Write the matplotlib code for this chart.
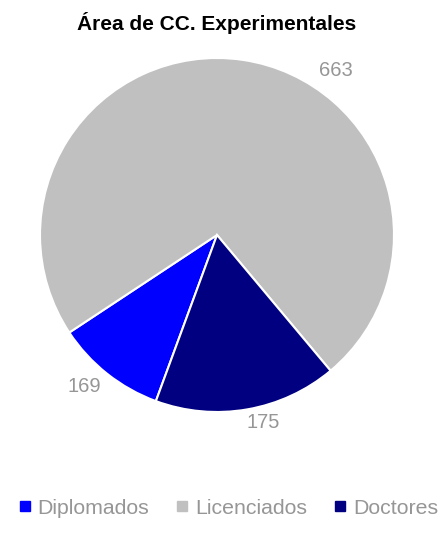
import matplotlib
matplotlib.use("Agg")
import matplotlib.pyplot as plt
from matplotlib.lines import Line2D
import numpy as np

# Datos
categorias = ["Diplomados", "Licenciados", "Doctores"]
etiquetas = [169, 663, 175]
# cuota de cada sector tal como se ve en el grafico (en %)
cuotas = [10.1, 73.2, 16.7]
colores = ["#0000FF", "#C0C0C0", "#000080"]

plt.rcParams["font.family"] = ["Liberation Sans", "DejaVu Sans"]

fig = plt.figure(figsize=(4.45, 5.34), dpi=100)
ax = fig.add_axes([0.0899, 0.2285, 0.7955, 0.6629])

wedges, _ = ax.pie(cuotas, colors=colores, startangle=249.8, counterclock=False,
                   wedgeprops={"edgecolor": "white", "linewidth": 1.5})
ax.set_xlim(-1, 1)
ax.set_ylim(-1, 1)
ax.set_aspect("equal")
ax.axis("off")

# Etiquetas de datos (angulo, distancia) como en el original
pos_etiquetas = [(-131.1, 1.137), (54.1, 1.146), (-76.2, 1.09)]
for valor, (ang, dist) in zip(etiquetas, pos_etiquetas):
    a = np.deg2rad(ang)
    ax.text(dist * np.cos(a), dist * np.sin(a), str(valor), ha="center", va="center",
            fontsize=14.5, color="#969696", clip_on=False)

fig.text(0.487, 1 - 23 / 534, "Área de CC. Experimentales", ha="center", va="center",
         fontsize=15, fontweight="bold", color="black")

handles = [Line2D([], [], marker="s", linestyle="none", markersize=6.5,
                  markerfacecolor=c, markeredgecolor=c) for c in colores]
leg = fig.legend(handles, categorias, loc="center", bbox_to_anchor=(0.513, 1 - 508 / 534),
                 ncol=3, frameon=False, fontsize=15.3, handlelength=0.6,
                 handletextpad=0.3, columnspacing=1.25, labelcolor="#969696")

fig.savefig("out.png", dpi=100)
